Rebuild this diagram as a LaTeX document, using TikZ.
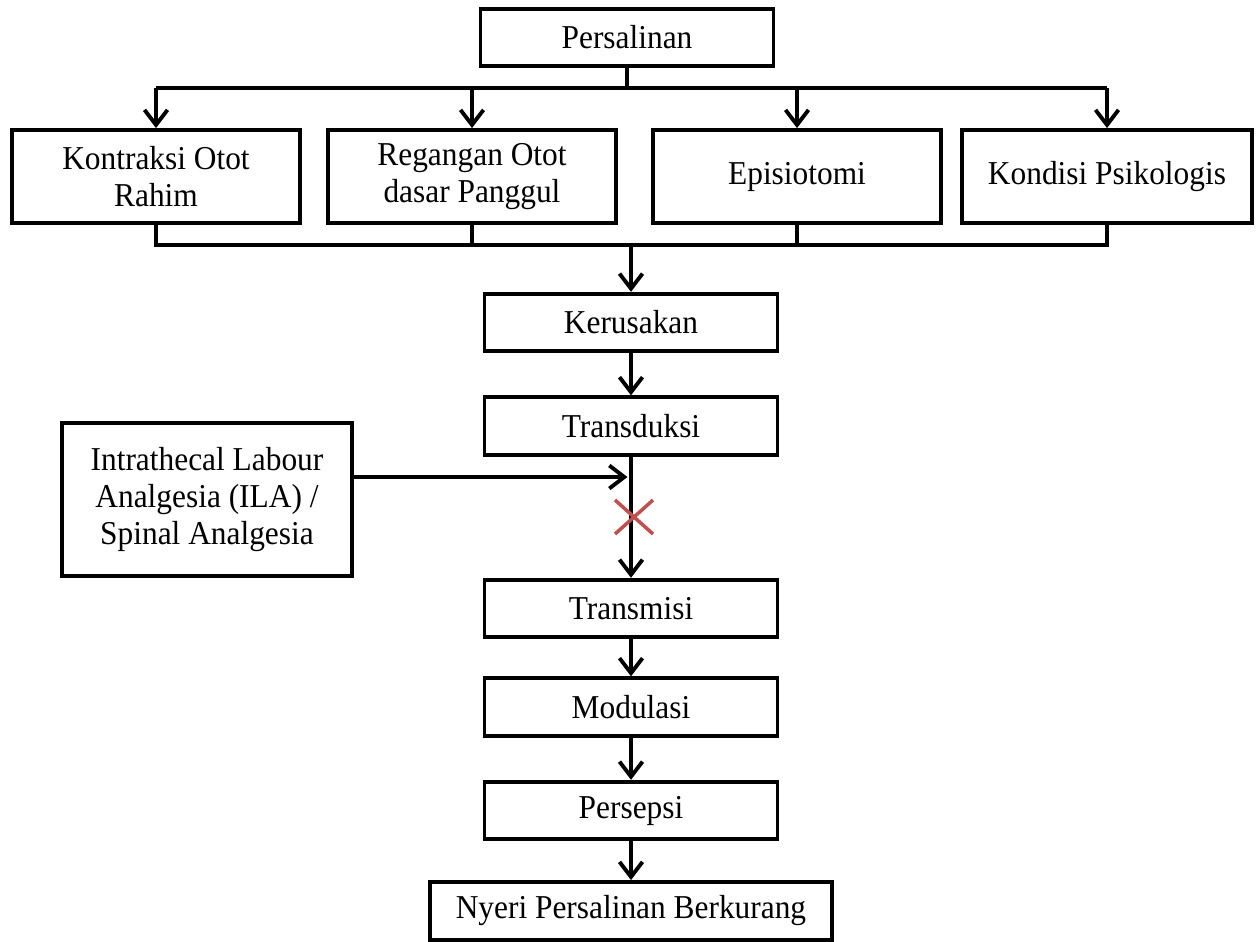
\documentclass[tikz,border=0pt]{standalone}
\usepackage{fontspec}
\setmainfont[FakeStretch=0.94]{Liberation Serif}
\usepackage{xcolor}
\usepackage{tikz}
\usetikzlibrary{arrows.meta}
\definecolor{xred}{RGB}{192,80,77}

\begin{document}
\begin{tikzpicture}[
			font=\fontsize{19}{21}\selectfont,
			box/.style={draw, line width=2.2pt, minimum width=5.86cm, minimum height=1.15cm, align=center, inner sep=0pt},
			cause/.style={box, minimum width=5.76cm, minimum height=1.86cm},
			link/.style={line width=2.2pt},
			arrow/.style={link, -{Straight Barb[length=0.3cm, width=0.46cm]}}
			]
			\useasboundingbox (0,0) rectangle (25.18,-18.82);
			\clip (0,0) rectangle (25.18,-18.82);
			\node[box] (pers) at (12.54,-0.75) {Persalinan};
			\node[cause] (kon) at (3.12,-3.53) {Kontraksi Otot\\Rahim};
			\node[cause] (reg) at (9.44,-3.53) {Regangan Otot\\dasar Panggul};
			\node[cause] (epi) at (15.94,-3.53) {Episiotomi};
			\node[cause, minimum width=5.8cm] (psi) at (22.14,-3.53) {Kondisi Psikologis};
			\node[box] (keru) at (12.62,-6.45) {Kerusakan};
			\node[box] (trans) at (12.62,-8.52) {Transduksi};
			\node[box, minimum width=5.8cm, minimum height=3.06cm] (ila) at (4.14,-9.99) {Intrathecal Labour\\Analgesia (ILA) /\\Spinal Analgesia};
			\node[box] (transm) at (12.62,-12.17) {Transmisi};
			\node[box] (modu) at (12.62,-14.14) {Modulasi};
			\node[box] (perse) at (12.62,-16.21) {Persepsi};
			\node[box, minimum width=8.04cm, minimum height=1.16cm] (nyeri) at (12.62,-18.22) {Nyeri Persalinan Berkurang};
			\coordinate (topbus) at (0,-1.76);
			\coordinate (lowbus) at (0,-4.9);
			\coordinate (block) at (12.62,-9.54);
			% percabangan dari persalinan
			\draw[link] (pers.south) -- (pers.south |- topbus);
			\draw[link] (kon.north |- topbus) -- (psi.north |- topbus);
			\draw[arrow] (kon.north |- topbus) -- (kon.north);
			\draw[arrow] (reg.north |- topbus) -- (reg.north);
			\draw[arrow] (epi.north |- topbus) -- (epi.north);
			\draw[arrow] (psi.north |- topbus) -- (psi.north);
			% penggabungan ke kerusakan
			\draw[link] (kon.south) -- (kon.south |- lowbus) -- (psi.south |- lowbus) -- (psi.south);
			\draw[link] (reg.south) -- (reg.south |- lowbus);
			\draw[link] (epi.south) -- (epi.south |- lowbus);
			\draw[arrow] (keru.north |- lowbus) -- (keru.north);
			\draw[arrow] (keru) -- (trans);
			\draw[arrow] (trans) -- (transm);
			\draw[arrow, shorten >=2pt] (ila.east |- block) -- (block);
			\draw[xred, line width=2pt] (12.30,-10.0) -- (13.06,-10.68);
			\draw[xred, line width=2pt] (12.30,-10.68) -- (13.06,-10.0);
			\draw[arrow] (transm) -- (modu);
			\draw[arrow] (modu) -- (perse);
			\draw[arrow] (perse) -- (nyeri);
		\end{tikzpicture}
\end{document}
